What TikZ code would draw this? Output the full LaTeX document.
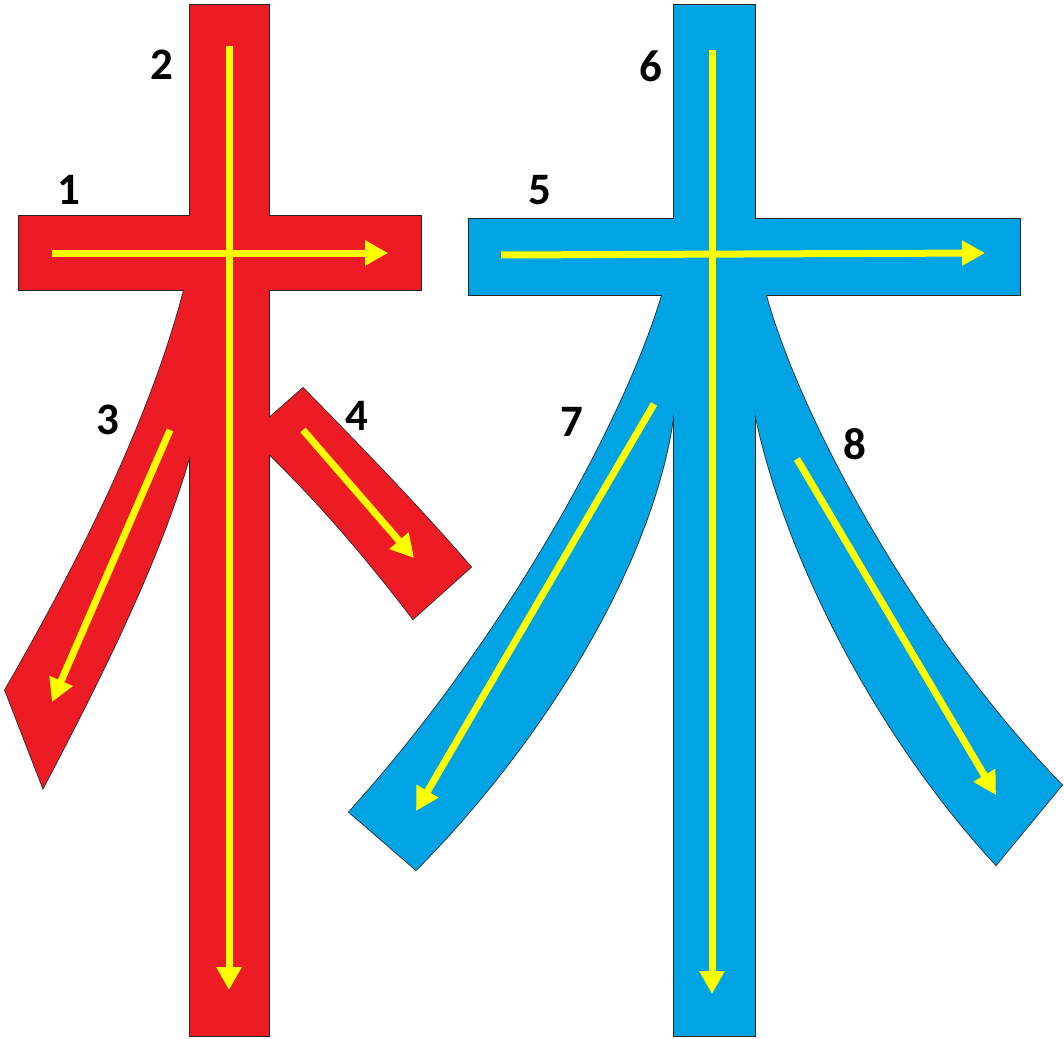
\documentclass[tikz,border=0pt]{standalone}
\usepackage{fontspec}
\setmainfont{Carlito}
\usetikzlibrary{arrows.meta}
\definecolor{redc}{RGB}{237,28,36}
\definecolor{bluec}{RGB}{0,163,228}
\definecolor{yel}{RGB}{255,255,0}
\tikzset{
  yarrow/.style={draw=yel, line width=7pt, -{Triangle[length=23pt,width=24pt]}},
  numlabel/.style={font=\fontsize{45}{45}\selectfont\bfseries, inner sep=0pt, text=black},
  edgeline/.style={draw=black!85, line width=1.6pt, line join=miter},
}
\newcommand\RedShapes[1]{%
  \path[#1] (190,5) rectangle (269,1036);
  \path[#1] (19,216) rectangle (421,290);
  \path[#1] (184,290) .. controls (150,420) and (80,560) .. (5,690) -- (43,788)
     .. controls (100,680) and (160,560) .. (190,455) -- (200,455) -- (200,290) -- cycle;
  \path[#1] (269,418) -- (303,388) .. controls (360,446) and (420,508) .. (471,567) -- (413,619)
     .. controls (365,556) and (318,502) .. (270,455) -- (260,455) -- (260,418) -- cycle;
}
\newcommand\BlueShapes[1]{%
  \path[#1] (674,5) rectangle (755,1036);
  \path[#1] (469,219) rectangle (1020,295);
  \path[#1] (662,295) .. controls (625,420) and (505,640) .. (349,812) -- (416,870)
     .. controls (545,740) and (655,560) .. (674,412) -- (690,412) -- (690,295) -- cycle;
  \path[#1] (766,295) .. controls (800,420) and (920,640) .. (1062,785) -- (996,865)
     .. controls (880,740) and (785,560) .. (755,413) -- (740,413) -- (740,295) -- cycle;
}
\begin{document}
\begin{tikzpicture}[x=1pt,y=-1pt]
\useasboundingbox (0,0) rectangle (1064,1038);
% outlines first, then fills on top
\RedShapes{edgeline}
\BlueShapes{edgeline}
\RedShapes{fill=redc}
\BlueShapes{fill=bluec}

% arrow coordinates (red)
\coordinate (r1s) at (52,253);  \coordinate (r1e) at (388,253);
\coordinate (r2s) at (229,46);  \coordinate (r2e) at (229,990);
\coordinate (r3s) at (170,430); \coordinate (r3e) at (52,702);
\coordinate (r4s) at (303,430); \coordinate (r4e) at (414,558);
% arrow coordinates (blue)
\coordinate (b5s) at (501,255); \coordinate (b5e) at (985,253);
\coordinate (b6s) at (712,50);  \coordinate (b6e) at (712,994);
\coordinate (b7s) at (654,404); \coordinate (b7e) at (416,811);
\coordinate (b8s) at (797,459); \coordinate (b8e) at (996,795);

\draw[yarrow] (r2s) -- (r2e);
\draw[yarrow] (r1s) -- (r1e);
\draw[yarrow] (r3s) -- (r3e);
\draw[yarrow] (r4s) -- (r4e);
\draw[yarrow] (b6s) -- (b6e);
\draw[yarrow] (b5s) -- (b5e);
\draw[yarrow] (b7s) -- (b7e);
\draw[yarrow] (b8s) -- (b8e);

\node[numlabel] (n1) at (69,190) {1};
\node[numlabel] (n2) at (162,65) {2};
\node[numlabel] (n3) at (108,420) {3};
\node[numlabel] (n4) at (357,416) {4};
\node[numlabel] (n5) at (540,190) {5};
\node[numlabel] (n6) at (651,66) {6};
\node[numlabel] (n7) at (572,422) {7};
\node[numlabel] (n8) at (855,444) {8};
\end{tikzpicture}
\end{document}
